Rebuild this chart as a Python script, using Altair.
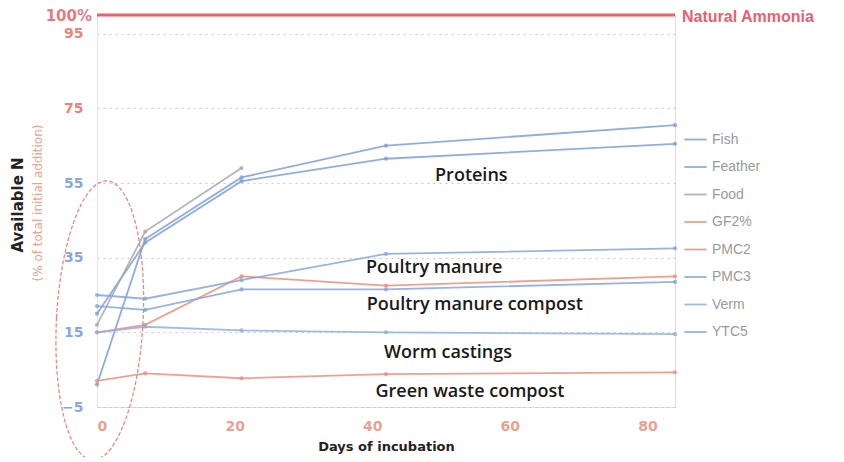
import altair as alt
import pandas as pd

# ---- data ----
days = [0, 7, 21, 42, 84]
series_names = ["Fish", "Feather", "Food", "GF2%", "PMC2", "PMC3", "Verm", "YTC5"]
fish = [1, 40, 56.5, 65, 70.5]
feather = [20, 39, 55.5, 61.5, 65.5]
food = [17, 42, 59, None, None]
gf2 = [2, 4, 2.7, 3.8, 4.3]
pmc2 = [15, 17, 30, 27.5, 30]
pmc3 = [22, 21, 26.5, 26.5, 28.5]
verm = [15, 16.5, 15.5, 15, 14.5]
ytc5 = [25, 24, 29, 36, 37.5]
series_colors = ["#7d9fd8", "#7d9fd8", "#a8a8a8", "#e8917f", "#e8917f", "#86a5dc", "#8fb0e0", "#86a5dc"]
series_widths = [1.8, 1.8, 4.5, 1.8, 1.8, 1.8, 1.6, 1.8]

y_ticks = [-5, 15, 35, 55, 75, 95]
x_ticks = [0, 20, 40, 60, 80]

groups = ["Proteins", "Poultry manure", "Poultry manure compost", "Worm castings", "Green waste compost"]
group_day = [54.4, 49.0, 54.9, 51.0, 54.2]
group_val = [57.0, 32.1, 22.2, 9.4, -1.0]

ammonia_value = 100
ammonia_label = "Natural Ammonia"
ellipse_day = [0.4]
ellipse_val = [18.2]

values = {"Fish": fish, "Feather": feather, "Food": food, "GF2%": gf2,
          "PMC2": pmc2, "PMC3": pmc3, "Verm": verm, "YTC5": ytc5}
rows = []
for name in series_names:
    for d, v in zip(days, values[name]):
        if v is not None:
            rows.append({"day": d, "value": v, "series": name})
df = pd.DataFrame(rows)

W, H = 578, 392
xs = alt.Scale(domain=[0, 84], nice=False, zero=False)
ys = alt.Scale(domain=[-5, 100], nice=False, zero=False)

base = alt.Chart(df)

lines = base.mark_line(opacity=0.85).encode(
    x=alt.X("day:Q", scale=xs, axis=alt.Axis(
        values=x_ticks, grid=False, domain=False, ticks=False, labelPadding=12,
        labelColor="#e8a28f", labelFontSize=14, labelFontWeight="bold", labelFont="DejaVu Sans",
        title="Days of incubation", titleFontSize=13, titleFontWeight="bold", titleColor="#222",
        titleFont="DejaVu Sans", titlePadding=7)),
    y=alt.Y("value:Q", scale=ys, axis=alt.Axis(
        values=y_ticks, grid=True, gridDash=[2, 4], gridColor="#c8c8c8", ticks=False,
        domain=True, domainColor="#e4e4e4", labelPadding=14,
        labelColor={"condition": {"test": "datum.value >= 75", "value": "#e8847a"}, "value": "#8aa6d8"},
        labelFontSize=14, labelFontWeight="bold", labelFont="DejaVu Sans", title=None)),
    color=alt.Color("series:N", scale=alt.Scale(domain=series_names, range=series_colors),
                    sort=series_names,
                    legend=alt.Legend(title=None, orient="none", legendX=586, legendY=112,
                                      symbolType="stroke", symbolSize=500, symbolStrokeWidth=2,
                                      labelColor="#9a9a9a", labelFontSize=14, labelFont="Liberation Sans",
                                      rowPadding=7.5)),
    strokeWidth=alt.StrokeWidth("series:N", scale=alt.Scale(domain=series_names, range=series_widths),
                                legend=None),
)

points = base.mark_point(filled=True, size=18, opacity=0.8).encode(
    x=alt.X("day:Q", scale=xs), y=alt.Y("value:Q", scale=ys),
    color=alt.Color("series:N", scale=alt.Scale(domain=series_names, range=series_colors), legend=None),
)

amm = pd.DataFrame({"d0": [0], "d1": [84], "v": [ammonia_value], "label": [ammonia_label], "pct": ["100%"]})
amm_rule = alt.Chart(amm).mark_rule(color="#e8606c", strokeWidth=3).encode(
    x=alt.X("d0:Q", scale=xs), x2="d1:Q", y=alt.Y("v:Q", scale=ys))
amm_text = alt.Chart(amm).mark_text(align="left", baseline="middle", dx=7, dy=2, fontSize=16,
                                    fontWeight="bold", color="#e5626e", font="Liberation Sans").encode(
    x=alt.X("d1:Q", scale=xs), y=alt.Y("v:Q", scale=ys), text="label:N")
pct_text = alt.Chart(amm).mark_text(align="right", baseline="middle", dx=-5, dy=1, fontSize=15,
                                    fontWeight="bold", color="#e07c86", font="DejaVu Sans").encode(
    x=alt.X("d0:Q", scale=xs), y=alt.Y("v:Q", scale=ys), text="pct:N")

gdf = pd.DataFrame({"day": group_day, "value": group_val, "label": groups})
group_text = alt.Chart(gdf).mark_text(fontSize=18, fontWeight=600, color="#1a1a1a",
                                      font="Open Sans").encode(
    x=alt.X("day:Q", scale=xs), y=alt.Y("value:Q", scale=ys), text="label:N")

edf = pd.DataFrame({"day": ellipse_day, "value": ellipse_val})
ellipse = alt.Chart(edf).mark_point(
    shape="M -0.31,0 A 0.31,1 0 1,1 0.31,0 A 0.31,1 0 1,1 -0.31,0",
    size=78000, filled=False, stroke="#e0826f", strokeWidth=1.3, strokeDash=[4, 2],
    angle=3, opacity=0.9).encode(
    x=alt.X("day:Q", scale=xs), y=alt.Y("value:Q", scale=ys))

tdf = pd.DataFrame({"t1": ["Available N"], "t2": ["(% of total initial addition)"]})
ytitle1 = alt.Chart(tdf).mark_text(angle=270, fontSize=15, fontWeight="bold", color="#222",
                                   font="DejaVu Sans").encode(
    x=alt.value(-79), y=alt.value(190), text="t1:N")
ytitle2 = alt.Chart(tdf).mark_text(angle=270, fontSize=12, color="#e8a28f",
                                   font="DejaVu Sans").encode(
    x=alt.value(-59), y=alt.value(188), text="t2:N")

chart = alt.layer(amm_rule, lines, points, group_text, ellipse, amm_text, pct_text,
                  ytitle1, ytitle2).properties(
    width=W, height=H,
    autosize=alt.AutoSizeParams(type="none"),
    padding={"left": 89, "top": 7, "right": 161, "bottom": 50},
).configure_view(stroke=None).configure(background="white")

chart.save("out.html", embed_options={"renderer": "svg", "actions": False})
